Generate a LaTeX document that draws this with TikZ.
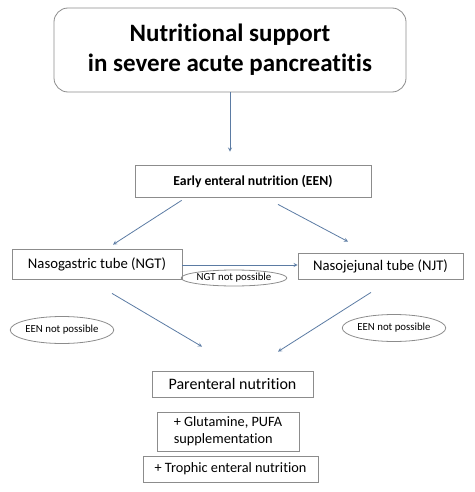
\documentclass[tikz,border=0pt]{standalone}
\usepackage{fontspec}
\setmainfont{Carlito}[Ligatures=NoCommon]
\usetikzlibrary{shapes.geometric}
\definecolor{linkblue}{HTML}{5B7BA3}
\definecolor{boxgray}{HTML}{8C8C8C}

\begin{document}
\begin{tikzpicture}[x=1pt,y=-1pt,>=stealth,thick,
    box/.style={draw=boxgray,line width=0.8pt,inner sep=0pt,align=center},
    note/.style={ellipse,draw=boxgray,line width=0.8pt,inner sep=0pt,font=\fontsize{10.8}{12}\selectfont},
    link/.style={->,draw=linkblue,line width=0.8pt}]
    \useasboundingbox (0,0) rectangle (474,492);

    \node[box, rounded corners=14pt, minimum width=352, minimum height=84,
          font=\bfseries\fontsize{25}{30}\selectfont] (title) at (230,50)
          {Nutritional support\\in severe acute pancreatitis};
    \node[box, minimum width=236, minimum height=32, font=\bfseries\fontsize{13.7}{15}\selectfont] (een) at (253,181) {Early enteral nutrition (EEN)};
    \node[box, minimum width=170, minimum height=30, font=\fontsize{14.7}{16}\selectfont] (ngt) at (97,264) {Nasogastric tube (NGT)};
    \node[box, minimum width=165, minimum height=26, font=\fontsize{14.7}{16}\selectfont] (njt) at (380.5,266) {Nasojejunal tube (NJT)};
    \node[box, minimum width=161, minimum height=26, font=\fontsize{16}{18}\selectfont] (pn) at (232.5,384) {Parenteral nutrition};
    \node[box, minimum width=142, minimum height=39, align=left, font=\fontsize{14.3}{17}\selectfont] (glu) at (228,431.5) {+ Glutamine, PUFA\\supplementation};
    \node[box, minimum width=175, minimum height=26, font=\fontsize{14.3}{16}\selectfont] (tro) at (230.5,469) {+ Trophic enteral nutrition};

    \node[note, minimum width=84, minimum height=16] (ngtno) at (234,278) {NGT not possible};
    \node[note, minimum width=100, minimum height=27] (eenl) at (62,330) {EEN not possible};
    \node[note, minimum width=98, minimum height=27] (eenr) at (394,328) {EEN not possible};

    % arrows
    \draw[link, shorten >=13pt] (title.south) -- (title.south |- een.north);
    \draw[link] ([xshift=47pt,yshift=-3pt]een.south west) -- ([xshift=16pt,yshift=4pt]ngt.north);
    \draw[link] ([xshift=25pt,yshift=-7pt]een.south) -- ([xshift=-32.5pt,yshift=11pt]njt.north);
    \draw[link] ([yshift=-1pt]ngt.east) -- ([yshift=-1pt]ngt.east -| njt.west);
    \draw[link] ([xshift=15pt,yshift=-14pt]ngt.south) -- ([xshift=-30.5pt,yshift=24pt]pn.north);
    \draw[link] ([xshift=-9.5pt,yshift=-13pt]njt.south) -- ([xshift=45.5pt,yshift=19pt]pn.north);
\end{tikzpicture}
\end{document}
